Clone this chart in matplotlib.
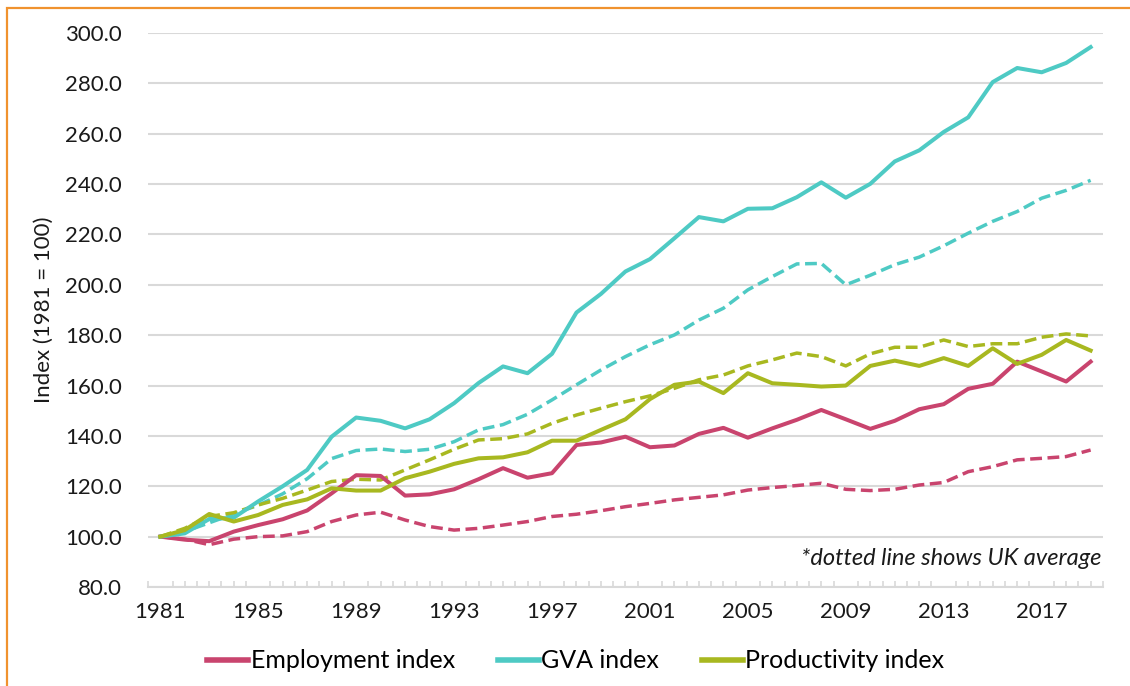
import matplotlib
matplotlib.use("Agg")
import matplotlib.pyplot as plt
from matplotlib.patches import Rectangle
import numpy as np

years = list(range(1981, 2020))

employment = [100, 98.8, 98.2, 102, 104.6, 106.9, 110.4, 117.2, 124.4, 124.1, 116.3, 116.8, 118.8, 122.8,
              127.2, 123.4, 125.2, 136.4, 137.4, 139.7, 135.5, 136.2, 140.8, 143.2, 139.3, 143, 146.4, 150.3,
              146.6, 142.8, 146, 150.6, 152.6, 158.7, 160.7, 169.5, 165.6, 161.6, 169.5]
employment_uk = [100, 99, 96.8, 99, 100, 100.3, 102, 106, 108.6, 109.7, 106.6, 104, 102.6, 103.3,
                 104.6, 106, 108, 108.9, 110.3, 111.9, 113.2, 114.6, 115.6, 116.6, 118.5, 119.5, 120.3, 121.2,
                 118.8, 118.3, 118.8, 120.5, 121.5, 125.8, 127.8, 130.5, 131.1, 131.8, 134.4]
gva = [100, 101.3, 107, 107.5, 114, 120, 126.5, 139.7, 147.3, 146, 143, 146.6, 153, 161,
       167.6, 164.9, 172.6, 189, 196.4, 205.3, 210.2, 218.5, 226.9, 225.2, 230.2, 230.4, 234.8, 240.7,
       234.6, 240.1, 249, 253.4, 260.7, 266.5, 280.5, 286.1, 284.4, 288.1, 294.4]
gva_uk = [100, 102, 105.5, 109, 112.5, 117, 123, 131, 134.2, 134.8, 133.8, 134.7, 137.7, 142.4,
          144.5, 148.6, 154.3, 160.3, 166.2, 171.5, 176.2, 180.1, 186, 190.7, 198, 203.3, 208.3, 208.5,
          200, 203.8, 208, 211, 215.5, 220.5, 225.2, 229.1, 234.4, 237.5, 241.5]
productivity = [100, 102.6, 109, 106, 108.6, 112.6, 114.8, 119.2, 118.3, 118.3, 123.2, 125.8, 128.9, 131.1,
                131.5, 133.5, 138.1, 138.1, 142.4, 146.6, 154.6, 160.3, 161.6, 157, 164.9, 160.9, 160.3, 159.6,
                160, 167.8, 169.9, 167.8, 170.9, 167.8, 174.8, 168.6, 172.2, 178.1, 173.9]
productivity_uk = [100, 103.3, 108, 109.5, 112.6, 115.2, 118.5, 121.9, 122.8, 122.5, 126.5, 130.5, 134.7, 138.4,
                   138.9, 140.8, 145, 148.3, 151, 153.6, 155.9, 158.9, 162.3, 164.2, 167.8, 170.2, 172.9, 171.5,
                   167.8, 172.6, 175.2, 175.2, 178.1, 175.5, 176.6, 176.6, 179.2, 180.5, 179.7]

labels = ["Employment index", "GVA index", "Productivity index"]
colors = ["#C9446E", "#4ECAC4", "#A8B820"]
xtick_years = list(range(1981, 2019, 4))
yticks = list(range(80, 301, 20))

plt.rcParams['font.family'] = ['Lato', 'DejaVu Sans']

fig = plt.figure(figsize=(11.3, 6.86), dpi=100)
ax = fig.add_axes([0.131, 0.1443, 0.845, 0.8076])

# orange frame (top and left visible)
fig.patches.append(Rectangle((0.0065, -0.05), 1.2, 1.038, transform=fig.transFigure,
                             fill=False, edgecolor="#F0922E", linewidth=1.6, zorder=0))

x = np.array(years)
solid_series = [employment, gva, productivity]
uk_series = [employment_uk, gva_uk, productivity_uk]
for u, c in zip(uk_series, colors):
    ax.plot(x, u, color=c, linewidth=2.5, linestyle=(0, (3.4, 1.6)), solid_capstyle='butt')
for s, c, lab in zip(solid_series, colors, labels):
    ax.plot(x, s, color=c, linewidth=2.9, label=lab, solid_joinstyle='round')

ax.set_xlim(1980.5, 2019.5)
ax.set_ylim(80, 300)
ax.set_yticks(yticks)
ax.set_yticklabels([f"{v:.1f}" for v in yticks])
ax.set_xticks(xtick_years)
ax.set_xticklabels([str(y) for y in xtick_years])
ax.set_xticks(np.arange(1980.5, 2019.6, 0.5), minor=True)

ax.grid(axis='y', color="#D9D9D9", linewidth=1.5)
ax.set_axisbelow(True)
for sp in ['top', 'right', 'left']:
    ax.spines[sp].set_visible(False)
ax.spines['bottom'].set_color("#D9D9D9")
ax.spines['bottom'].set_linewidth(1.5)

ax.tick_params(axis='y', length=0, labelsize=16, pad=19, labelcolor="#1a1a1a")
ax.tick_params(axis='x', which='major', length=0, labelsize=16, pad=11, labelcolor="#1a1a1a")
ax.tick_params(axis='x', which='minor', direction='in', length=4, color="#D9D9D9", width=1.2)

ax.set_ylabel("Index (1981 = 100)", fontsize=16, color="#1a1a1a", labelpad=8)

ax.text(0.998, 0.052, "*dotted line shows UK average", transform=ax.transAxes,
        ha='right', va='center', fontsize=17, style='italic', color="#1a1a1a")

leg = ax.legend(loc='upper center', bbox_to_anchor=(0.448, -0.072), ncol=3, frameon=False,
                fontsize=18, handlelength=1.65, handletextpad=0.1, columnspacing=1.7)
for line in leg.get_lines():
    line.set_linewidth(4)

fig.savefig("out.png", dpi=100)
